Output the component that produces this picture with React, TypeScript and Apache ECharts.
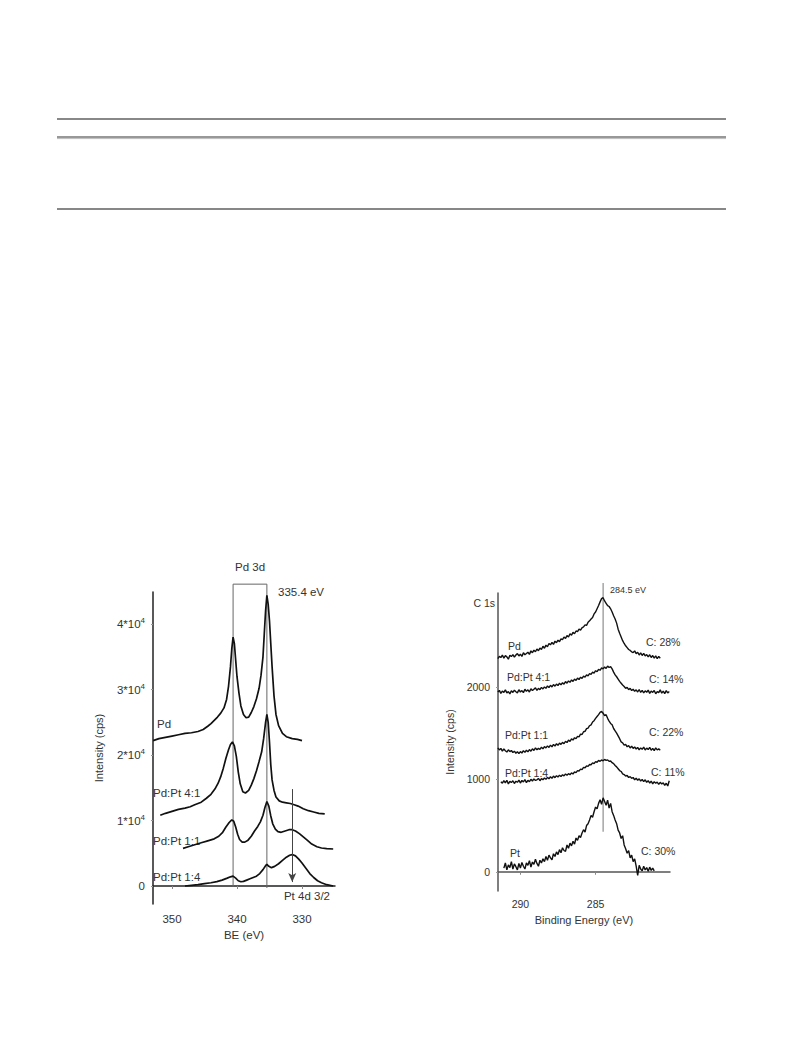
import React, { useEffect, useRef } from "react";
import * as echarts from "echarts";

// ---------- Left panel: Pd 3d (BE in eV, intensity in units of 10^4 cps) ----------
const leftXTicks = [330, 340, 350];
const leftYTicks = [0, 1, 2, 3, 4];

const pdCurve: [number, number][] = [
  [352.9, 2.22], [352, 2.25], [351, 2.27], [350, 2.29], [349, 2.31], [348, 2.33], [347, 2.34], [346, 2.36],
  [345.2, 2.39], [344.5, 2.44], [344, 2.48], [343.5, 2.53], [343, 2.58], [342.5, 2.64], [342, 2.72],
  [341.6, 2.85], [341.3, 3.05], [341.0, 3.35], [340.8, 3.62], [340.6, 3.80], [340.4, 3.70], [340.2, 3.45],
  [340.0, 3.20], [339.7, 2.95], [339.4, 2.75], [339.0, 2.62], [338.6, 2.57], [338.2, 2.58], [337.8, 2.65],
  [337.4, 2.74], [337.0, 2.86], [336.6, 3.02], [336.3, 3.22], [336.0, 3.50], [335.8, 3.85], [335.6, 4.20],
  [335.4, 4.44], [335.2, 4.30], [335.0, 4.05], [334.8, 3.70], [334.6, 3.35], [334.3, 2.90], [334.0, 2.62],
  [333.6, 2.45], [333.0, 2.33], [332.4, 2.28], [331.5, 2.25], [330.7, 2.24], [330.0, 2.22],
];
const pdPt41Curve: [number, number][] = [
  [351.8, 1.08], [351, 1.11], [350, 1.14], [349, 1.17], [348, 1.19], [347.2, 1.21], [346.5, 1.24],
  [345.5, 1.28], [344.7, 1.34], [344, 1.40], [343.4, 1.48], [342.9, 1.57], [342.5, 1.67], [342.1, 1.80],
  [341.7, 1.95], [341.3, 2.08], [341.0, 2.16], [340.7, 2.20], [340.4, 2.14], [340.1, 1.98], [339.8, 1.74],
  [339.5, 1.56], [339.1, 1.44], [338.7, 1.42], [338.2, 1.46], [337.8, 1.54], [337.4, 1.64], [337.0, 1.76],
  [336.6, 1.90], [336.2, 2.05], [335.9, 2.25], [335.6, 2.50], [335.4, 2.62], [335.2, 2.50], [335.0, 2.20],
  [334.8, 1.85], [334.6, 1.62], [334.3, 1.46], [334.0, 1.36], [333.5, 1.30], [333.0, 1.28], [332.4, 1.27],
  [331.8, 1.26], [331.2, 1.24], [330.6, 1.22], [329.8, 1.18], [329, 1.15], [328.2, 1.13], [327.4, 1.11],
  [326.5, 1.10],
];
const pdPt11Curve: [number, number][] = [
  [348.3, 0.575], [347.5, 0.60], [346.5, 0.63], [345.5, 0.66], [344.5, 0.69], [343.5, 0.72], [342.8, 0.76],
  [342.2, 0.82], [341.7, 0.90], [341.2, 0.97], [340.8, 1.01], [340.5, 0.99], [340.2, 0.90], [339.9, 0.79],
  [339.6, 0.71], [339.2, 0.67], [338.8, 0.67], [338.3, 0.70], [337.8, 0.76], [337.3, 0.84], [336.8, 0.91],
  [336.4, 0.98], [336.0, 1.08], [335.7, 1.20], [335.4, 1.29], [335.1, 1.22], [334.8, 1.07], [334.5, 0.95],
  [334.1, 0.87], [333.7, 0.83], [333.2, 0.82], [332.6, 0.84], [332.0, 0.86], [331.5, 0.86], [331.0, 0.84],
  [330.4, 0.80], [329.8, 0.75], [329.2, 0.70], [328.5, 0.64], [327.7, 0.60], [327.0, 0.58], [326.2, 0.57],
  [325.2, 0.565],
];
const pdPt14Curve: [number, number][] = [
  [348.0, 0.0], [347, 0.01], [346, 0.02], [345, 0.035], [344, 0.05], [343.1, 0.066], [342.3, 0.09],
  [341.5, 0.12], [341.0, 0.14], [340.6, 0.15], [340.2, 0.12], [339.8, 0.08], [339.4, 0.065], [339.0, 0.07],
  [338.5, 0.09], [338.0, 0.11], [337.5, 0.13], [337.0, 0.15], [336.5, 0.19], [336.0, 0.25], [335.6, 0.31],
  [335.4, 0.33], [335.1, 0.30], [334.7, 0.28], [334.2, 0.30], [333.6, 0.34], [333.0, 0.39], [332.4, 0.44],
  [331.9, 0.47], [331.5, 0.48], [331.0, 0.46], [330.5, 0.41], [330.0, 0.35], [329.4, 0.27], [328.8, 0.19],
  [328.2, 0.13], [327.6, 0.08], [327.0, 0.05], [326.2, 0.02], [325.2, 0.0],
];
// Pd 3d bracket (3d5/2 at 335.4 eV, 3d3/2 at 340.6 eV) and Pt 4d 3/2 arrow
const pdBracket: [number, number][] = [[340.6, -0.015], [340.6, 4.61], [335.4, 4.61], [335.4, -0.03]];
const pt4dArrow: [number, number][] = [[331.5, 1.48], [331.5, 0.06]];

// ---------- Right panel: C 1s (binding energy in eV, intensity in cps) ----------
const rightXTicks = [285, 290];
const rightYTicks = [0, 1000, 2000];

// measurement grid (eV)
const cEnergy = [
  291.5, 291.4, 291.3, 291.2, 291.1, 291.0, 290.9, 290.8, 290.7, 290.6,
  290.5, 290.4, 290.3, 290.2, 290.1, 290.0, 289.9, 289.8, 289.7, 289.6,
  289.5, 289.4, 289.3, 289.2, 289.1, 289.0, 288.9, 288.8, 288.7, 288.6,
  288.5, 288.4, 288.3, 288.2, 288.1, 288.0, 287.9, 287.8, 287.7, 287.6,
  287.5, 287.4, 287.3, 287.2, 287.1, 287.0, 286.9, 286.8, 286.7, 286.6,
  286.5, 286.4, 286.3, 286.2, 286.1, 286.0, 285.9, 285.8, 285.7, 285.6,
  285.5, 285.4, 285.3, 285.2, 285.1, 285.0, 284.9, 284.8, 284.7, 284.6,
  284.5, 284.4, 284.3, 284.2, 284.1, 284.0, 283.9, 283.8, 283.7, 283.6,
  283.5, 283.4, 283.3, 283.2, 283.1, 283.0, 282.9, 282.8, 282.7, 282.6,
  282.5, 282.4, 282.3, 282.2, 282.1, 282.0, 281.9, 281.8, 281.7, 281.6,
  281.5, 281.4, 281.3, 281.2, 281.1, 281.0, 280.9, 280.8, 280.7, 280.6,
  280.5, 280.4, 280.3, 280.2, 280.1,
];
const cPd = [
  2305, 2330, 2318, 2345, 2312, 2338, 2325, 2300, 2342, 2328,
  2350, 2322, 2345, 2360, 2335, 2355, 2330, 2370, 2348, 2362,
  2375, 2352, 2390, 2370, 2398, 2380, 2410, 2392, 2420, 2405,
  2440, 2418, 2452, 2435, 2470, 2455, 2482, 2460, 2495, 2478,
  2505, 2490, 2520, 2512, 2540, 2525, 2555, 2540, 2575, 2560,
  2590, 2575, 2605, 2598, 2625, 2615, 2640, 2650, 2672, 2665,
  2700, 2715, 2735, 2750, 2790, 2810, 2845, 2880, 2920, 2955,
  2965, 2930, 2905, 2880, 2870, 2845, 2810, 2770, 2735, 2690,
  2625, 2580, 2540, 2500, 2470, 2445, 2425, 2405, 2395, 2380,
  2372, 2390, 2360, 2375, 2345, 2368, 2340, 2362, 2335, 2350,
  2325, 2348, 2318, 2340, 2312, 2335, 2305, 2330, 2310, null,
  null, null, null, null, null,
];
const cPdPt41 = [
  1945, 1962, 1930, 1955, 1940, 1968, 1935, 1950, 1925, 1958,
  1940, 1965, 1948, 1935, 1970, 1945, 1960, 1938, 1975, 1952,
  1968, 1945, 1980, 1960, 1975, 1990, 1962, 1985, 1970, 1995,
  1978, 2000, 1985, 2010, 1992, 2018, 2000, 2025, 2008, 2030,
  2015, 2040, 2022, 2045, 2030, 2058, 2040, 2065, 2050, 2075,
  2060, 2085, 2070, 2095, 2080, 2105, 2092, 2118, 2105, 2130,
  2120, 2145, 2135, 2160, 2150, 2175, 2165, 2190, 2180, 2205,
  2195, 2215, 2200, 2225, 2210, 2220, 2195, 2160, 2130, 2110,
  2085, 2060, 2040, 2020, 2005, 1985, 1995, 1970, 1985, 1960,
  1975, 1952, 1968, 1945, 1972, 1940, 1962, 1935, 1958, 1942,
  1965, 1930, 1955, 1940, 1962, 1925, 1950, 1938, 1968, 1932,
  1955, 1928, 1960, 1935, 1950,
];
const cPdPt11 = [
  1340, 1318, 1335, 1305, 1328, 1310, 1295, 1320, 1300, 1312,
  1290, 1305, 1282, 1298, 1278, 1300, 1285, 1310, 1292, 1315,
  1298, 1322, 1305, 1330, 1312, 1340, 1320, 1335, 1325, 1348,
  1330, 1355, 1340, 1362, 1345, 1370, 1352, 1378, 1360, 1385,
  1368, 1392, 1378, 1400, 1385, 1412, 1398, 1425, 1410, 1438,
  1425, 1450, 1440, 1465, 1460, 1490, 1485, 1515, 1520, 1548,
  1555, 1580, 1590, 1620, 1635, 1660, 1680, 1700, 1725, 1735,
  1715, 1690, 1700, 1660, 1630, 1605, 1590, 1550, 1525, 1500,
  1470, 1440, 1405, 1395, 1370, 1378, 1352, 1365, 1340, 1358,
  1335, 1350, 1328, 1345, 1320, 1340, 1325, 1348, 1318, 1338,
  1322, 1345, 1315, 1335, 1310, 1340, 1318, 1330, 1315, null,
  null, null, null, null, null,
];
const cPdPt14 = [
  null, null, 975, 958, 985, 962, 990, 950, 978, 965,
  985, 955, 980, 968, 992, 960, 988, 972, 998, 965,
  990, 975, 1000, 982, 1005, 988, 995, 1010, 985, 1008,
  995, 1015, 1000, 1022, 1005, 1028, 1012, 1035, 1018, 1040,
  1025, 1045, 1030, 1050, 1038, 1058, 1045, 1062, 1050, 1070,
  1058, 1080, 1072, 1095, 1090, 1110, 1105, 1130, 1125, 1145,
  1140, 1160, 1158, 1178, 1170, 1192, 1185, 1205, 1195, 1210,
  1200, 1215, 1205, 1210, 1195, 1198, 1180, 1170, 1150, 1135,
  1115, 1095, 1085, 1060, 1052, 1035, 1042, 1020, 1030, 1010,
  1020, 995, 1012, 990, 1005, 982, 998, 975, 995, 968,
  985, 960, 980, 952, 975, 958, 970, 945, 968, 950,
  962, 935, 958, 928, 985,
];
const cPt = [
  null, null, null, null, 40, 95, 20, 75, 45, 110,
  30, 85, 55, 20, 90, 40, 100, 60, 30, 95,
  70, 120, 50, 105, 80, 135, 90, 60, 125, 95,
  140, 110, 165, 125, 180, 150, 130, 195, 165, 215,
  185, 240, 205, 260, 230, 220, 290, 255, 310, 280,
  330, 300, 365, 340, 390, 370, 420, 455, 430, 500,
  520, 560, 610, 590, 650, 700, 680, 740, 780, 730,
  800, 760, 720, 775, 690, 740, 650, 610, 560, 520,
  450, 420, 360, 390, 290, 250, 200, 230, 150, 180,
  110, 140, 60, -40, 70, 30, 10, 60, 20, 45,
  5, 50, 15, 40, 10, null, null, null, null, null,
  null, null, null, null, null,
];
const c1sLine: [number, number][] = [[284.5, 3124], [284.5, 433]];

const FONT = "Liberation Sans, Arial, sans-serif";
const TXT = "#333";

function txt(x: number, y: number, text: string, size: number, align: string = "left") {
  return {
    type: "text",
    x,
    y,
    style: { text, fontSize: size, fontFamily: FONT, fill: TXT, align, verticalAlign: "middle" },
  };
}
function hline(y: number, color: string, w: number) {
  return { type: "line", shape: { x1: 57, y1: y, x2: 726, y2: y }, style: { stroke: color, lineWidth: w } };
}
function onGrid(values: (number | null)[]) {
  return cEnergy.map((e, i) => [e, values[i]]);
}

export default function App() {
  const ref = useRef<HTMLDivElement>(null);
  useEffect(() => {
    if (!ref.current) return;
    const chart = echarts.init(ref.current, null, { renderer: "svg" });
    const curve = (data: any[], idx: number, w = 1.7, color = "#111") => ({
      type: "line",
      xAxisIndex: idx,
      yAxisIndex: idx,
      data,
      showSymbol: false,
      symbol: "none",
      connectNulls: false,
      lineStyle: { color, width: w },
      silent: true,
    });
    const option: any = {
      animation: false,
      backgroundColor: "#fff",
      textStyle: { fontFamily: FONT },
      grid: [
        { left: 153, top: 592, width: 182, height: 312 },
        { left: 498, top: 593, width: 172, height: 298 },
      ],
      xAxis: [
        {
          type: "value", gridIndex: 0, inverse: true, min: 324.92, max: 352.92,
          name: "BE (eV)", nameLocation: "middle", nameGap: 25,
          nameTextStyle: { fontSize: 11.5, color: TXT, fontFamily: FONT },
          axisLine: { lineStyle: { color: "#222", width: 1.5 } },
          axisTick: { show: true, customValues: leftXTicks, length: 3, lineStyle: { color: "#888" } },
          axisLabel: { customValues: leftXTicks, fontSize: 11.5, color: TXT, margin: 9, fontFamily: FONT },
          splitLine: { show: false },
        },
        {
          type: "value", gridIndex: 1, inverse: true, min: 280.05, max: 291.49,
          name: "Binding Energy (eV)", nameLocation: "middle", nameGap: 23,
          nameTextStyle: { fontSize: 11, color: TXT, fontFamily: FONT },
          axisLine: { lineStyle: { color: "#555", width: 1.5 } },
          axisTick: { show: true, customValues: rightXTicks, length: 3, lineStyle: { color: "#888" } },
          axisLabel: { customValues: rightXTicks, fontSize: 10.5, color: TXT, margin: 7, fontFamily: FONT },
          splitLine: { show: false },
        },
      ],
      yAxis: [
        {
          type: "value", gridIndex: 0, min: -0.275, max: 4.49,
          name: "Intensity (cps)", nameLocation: "middle", nameGap: 49,
          nameTextStyle: { fontSize: 11, color: TXT, fontFamily: FONT },
          axisLine: { show: true, lineStyle: { color: "#222", width: 1.5 } },
          axisTick: { show: true, customValues: leftYTicks, length: 2, lineStyle: { color: "#999" } },
          axisLabel: {
            customValues: leftYTicks, margin: 8, color: TXT, fontFamily: FONT, fontSize: 11.5,
            formatter: (v: number) => (v === 0 ? "{b|0}" : `{b|${v}*10}{s|4}`),
            rich: {
              b: { fontSize: 11.5, color: TXT, fontFamily: FONT },
              s: { fontSize: 8, color: TXT, fontFamily: FONT, padding: [0, 0, 7, 0] },
            },
          },
          splitLine: { show: false },
        },
        {
          type: "value", gridIndex: 1, min: -208, max: 3016,
          name: "Intensity (cps)", nameLocation: "middle", nameGap: 43,
          nameTextStyle: { fontSize: 10.5, color: TXT, fontFamily: FONT },
          axisLine: { show: true, lineStyle: { color: "#555", width: 1.5 } },
          axisTick: { show: true, customValues: rightYTicks, length: 2, lineStyle: { color: "#999" } },
          axisLabel: {
            customValues: rightYTicks, margin: 8, fontSize: 10.5, color: TXT, fontFamily: FONT,
            formatter: (v: number) => String(v),
          },
          splitLine: { show: false },
        },
      ],
      series: [
        { ...curve(pdBracket, 0, 1, "#666"), clip: false },
        {
          ...curve([], 0, 1, "#444"),
          markLine: {
            silent: true, symbol: ["none", "arrow"], symbolSize: [6, 9], label: { show: false },
            lineStyle: { color: "#444", width: 1, type: "solid" },
            data: [[{ coord: pt4dArrow[0] }, { coord: pt4dArrow[1] }]],
          },
        },
        curve(pdCurve, 0),
        curve(pdPt41Curve, 0),
        curve(pdPt11Curve, 0),
        curve(pdPt14Curve, 0),
        { ...curve(c1sLine, 1, 1, "#777"), clip: false },
        curve(onGrid(cPd), 1, 1.4),
        curve(onGrid(cPdPt41), 1, 1.4),
        curve(onGrid(cPdPt11), 1, 1.4),
        curve(onGrid(cPdPt14), 1, 1.4),
        curve(onGrid(cPt), 1, 1.4),
      ],
      graphic: [
        hline(119, "#888", 2),
        hline(137, "#333", 1.2),
        hline(138.6, "#bbb", 1),
        hline(209, "#111", 1.2),
        // left panel annotations
        txt(250, 567, "Pd 3d", 11.5, "center"),
        txt(278, 592, "335.4 eV", 11.5),
        txt(157, 724, "Pd", 11.5),
        txt(153, 793, "Pd:Pt 4:1", 11.5),
        txt(153, 841, "Pd:Pt 1:1", 11.5),
        txt(153, 877, "Pd:Pt 1:4", 11.5),
        txt(330, 896, "Pt 4d 3/2", 11.5, "right"),
        // right panel annotations
        txt(610, 590, "284.5 eV", 9),
        txt(495, 603, "C 1s", 10.5, "right"),
        txt(508, 646, "Pd", 10.5),
        txt(507, 677, "Pd:Pt 4:1", 10.5),
        txt(505, 735, "Pd:Pt 1:1", 10.5),
        txt(505, 773, "Pd:Pt 1:4", 10.5),
        txt(510, 853, "Pt", 10.5),
        txt(646, 642, "C: 28%", 10.5),
        txt(649, 679, "C: 14%", 10.5),
        txt(649, 732, "C: 22%", 10.5),
        txt(651, 772, "C: 11%", 10.5),
        txt(641, 851, "C: 30%", 10.5),
      ],
    };
    chart.setOption(option);
    return () => chart.dispose();
  }, []);
  return (
    <div
      ref={ref}
      style={{ position: "absolute", left: 0, top: 0, width: 793, height: 1059, background: "#fff" }}
    />
  );
}
